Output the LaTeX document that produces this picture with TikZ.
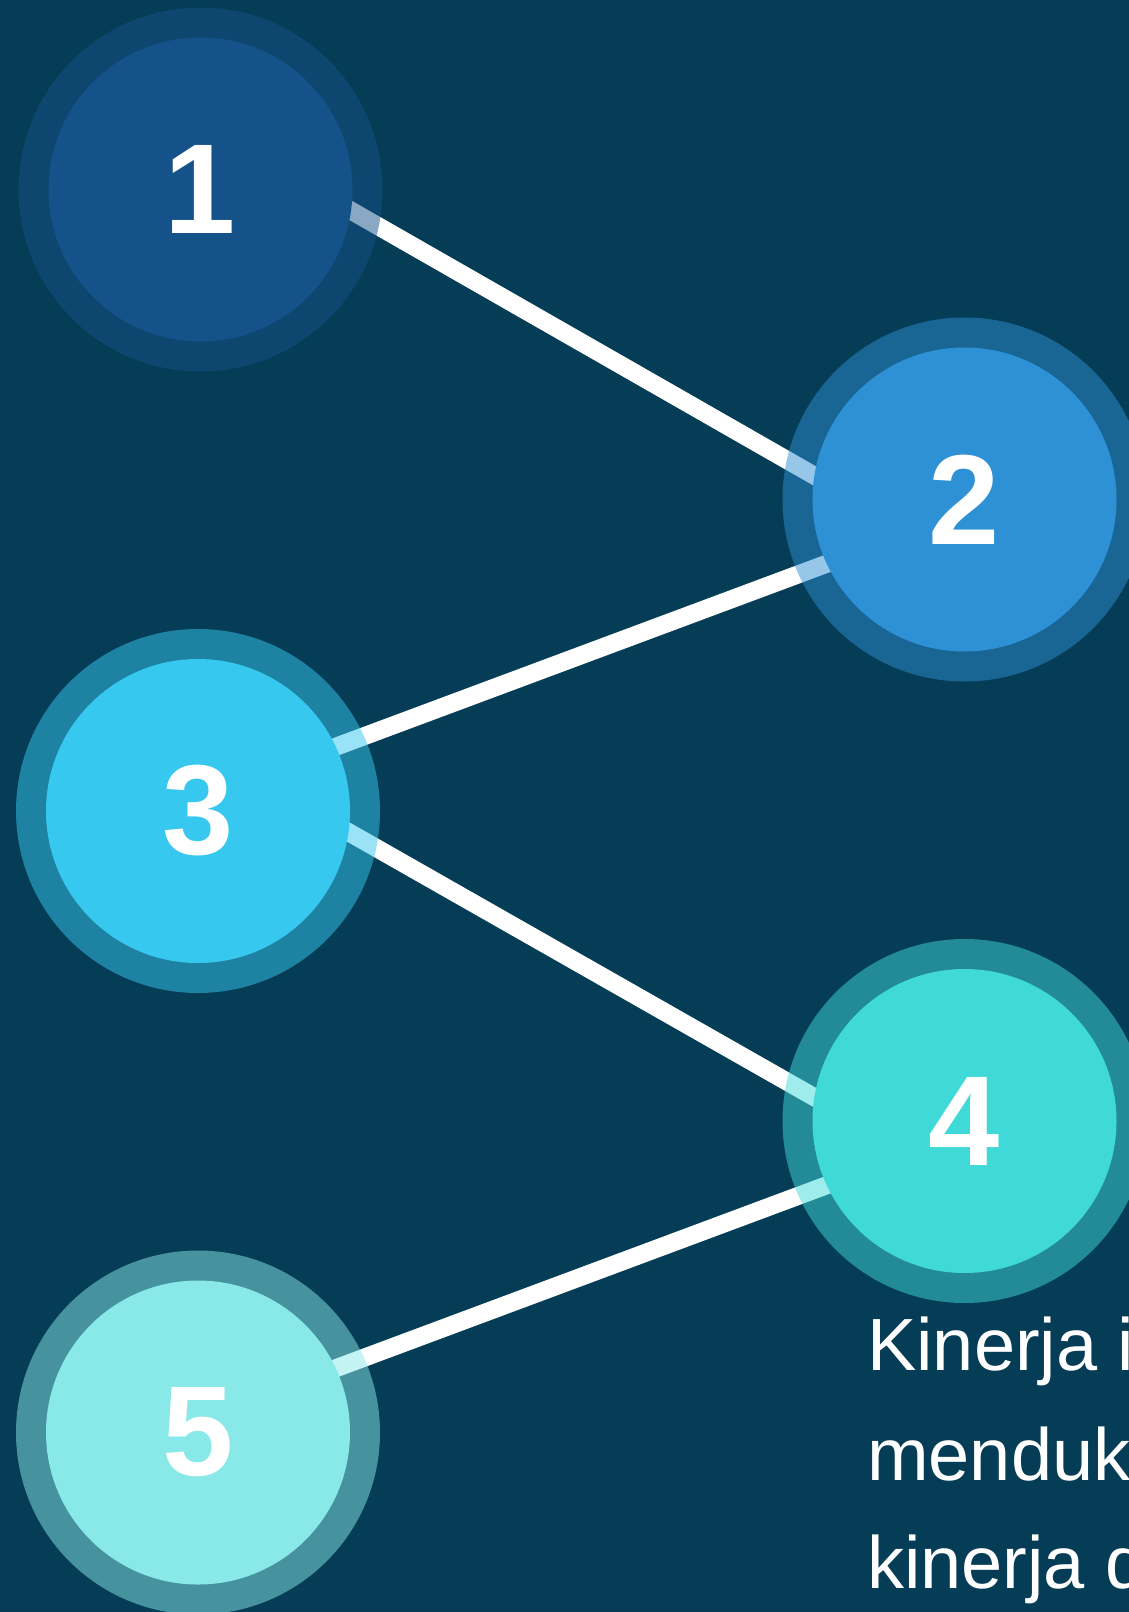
\documentclass[tikz,border=0pt]{standalone}
\usepackage{fontspec}
\setmainfont{Liberation Sans}
\newfontfamily\digitfont{Liberation Sans}
\pgfdeclarelayer{bg}
\pgfsetlayers{bg,main}
\definecolor{bgcol}{HTML}{053C56}
\definecolor{cA}{HTML}{155289}
\definecolor{cB}{HTML}{2E91D5}
\definecolor{cC}{HTML}{37C8F0}
\definecolor{cD}{HTML}{3FDAD8}
\definecolor{cE}{HTML}{88E9E8}
\tikzset{
  ringnode/.style={circle, inner sep=0pt, outer sep=0pt, minimum size=364pt, fill=#1, fill opacity=0.5},
  discnode/.style={circle, inner sep=0pt, outer sep=0pt, minimum size=304pt, fill=#1, text=white,
    font=\digitfont\bfseries\fontsize{128}{128}\selectfont},
  conn/.style={white, line width=18pt, shorten <=-14pt, shorten >=-14pt},
  bodytext/.style={anchor=base west, inner sep=0pt, text=white, font=\fontsize{74}{80}\selectfont}
}
\begin{document}
\begin{tikzpicture}[x=1pt,y=-1pt]
\useasboundingbox (0,0) rectangle (1129,1612);
\begin{pgfonlayer}{bg}
\fill[bgcol] (0,0) rectangle (1129,1612);
\end{pgfonlayer}
\clip (0,0) rectangle (1129,1612);
% rings (semi-transparent, above connectors)
\node[ringnode=cA] (r1) at (200.5,189.5) {};
\node[ringnode=cB] (r2) at (964.5,499.5) {};
\node[ringnode=cC] (r3) at (198,811) {};
\node[ringnode=cD] (r4) at (964.5,1121) {};
\node[ringnode=cE] (r5) at (198,1432.5) {};
% discs
\node[discnode=cA] (n1) at (200.5,189.5) {1};
\node[discnode=cB] (n2) at (964.5,499.5) {2};
\node[discnode=cC] (n3) at (198,811) {3};
\node[discnode=cD] (n4) at (964.5,1121) {4};
\node[discnode=cE] (n5) at (198,1432.5) {5};
% connectors under the rings
\begin{pgfonlayer}{bg}
\draw[conn] (n1.-8.7) -- (n2.171.3);
\draw[conn] (n2.205) -- (n3.25);
\draw[conn] (n3.-8.7) -- (n4.171.3);
\draw[conn] (n4.205) -- (n5.25);
\end{pgfonlayer}
% text
\node[bodytext] (t1) at (867,1370.7) {Kinerja i};
\node[bodytext] (t2) at (867,1480) {menduk};
\node[bodytext] (t3) at (867,1588.5) {kinerja d};
\end{tikzpicture}
\end{document}
